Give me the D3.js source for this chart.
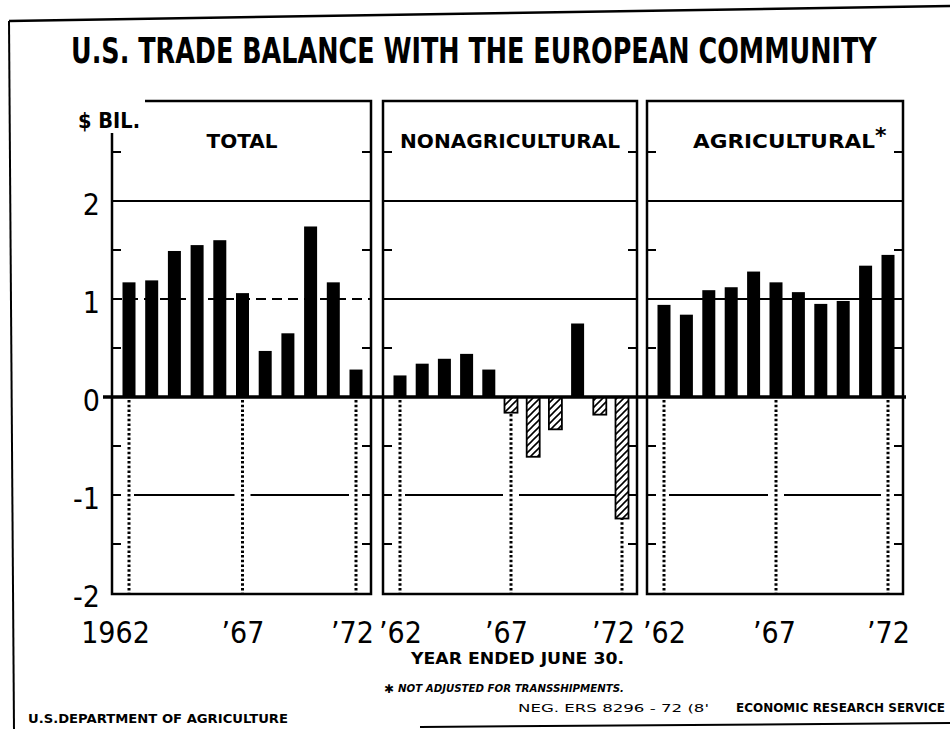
<!DOCTYPE html>
<html>
<head>
<meta charset="utf-8">
<title>U.S. Trade Balance with the European Community</title>
<script src="https://cdn.jsdelivr.net/npm/d3@7"></script>
<style>
  body { margin: 0; background: #fff; }
  svg text { fill: #000; }
</style>
</head>
<body>
<svg id="chart" width="950" height="729"></svg>
<script>

// values, $ billion, years ended June 30
var years = [1962, 1963, 1964, 1965, 1966, 1967, 1968, 1969, 1970, 1971, 1972];
var totalVals = [1.17, 1.19, 1.49, 1.55, 1.60, 1.06, 0.47, 0.65, 1.74, 1.17, 0.28];
var nonagVals = [0.22, 0.34, 0.39, 0.44, 0.28, -0.16, -0.61, -0.33, 0.75, -0.18, -1.24];
var agVals = [0.94, 0.84, 1.09, 1.12, 1.28, 1.17, 1.07, 0.95, 0.98, 1.34, 1.45];

var panelTitles = ["TOTAL", "NONAGRICULTURAL", "AGRICULTURAL"];
var yTicks = [2, 1, 0, -1, -2];
var markYears = [1962, 1967, 1972];
var yearLabels = [["1962", "\u201967", "\u201972"], ["\u201962", "\u201967", "\u201972"], ["\u201962", "\u201967", "\u201972"]];

var series = [totalVals, nonagVals, agVals];

var svg = d3.select("#chart");
var cond = "'DejaVu Sans Condensed', 'DejaVu Sans', sans-serif";
var sans = "'DejaVu Sans', sans-serif";

var y = d3.scaleLinear().domain([-2, 3]).range([593, 103]);
var boxTop = 101, boxBottom = 594;

// panel boxes (layout)
var panels = [
  {x0: 112, x1: 371, tx: 242, tw: 71},
  {x0: 383, x1: 637, tx: 510, tw: 220},
  {x0: 647, x1: 903, tx: 784, tw: 182}
];
var labelNudge = [[-14, 0, -4], [0, -5, -9], [0, -2, 0]];

/* hatch for negative bars */
var defs = svg.append("defs");
defs.append("pattern")
  .attr("id", "hatch")
  .attr("patternUnits", "userSpaceOnUse")
  .attr("width", 7).attr("height", 7)
  .append("path")
  .attr("d", "M0,7 L7,0 M-2,2 L2,-2 M5,9 L9,5")
  .attr("stroke", "#000").attr("stroke-width", 1.6);

/* page frame */
svg.append("line").attr("x1", 9).attr("y1", 21).attr("x2", 950).attr("y2", 6)
  .attr("stroke", "#000").attr("stroke-width", 2.5);
svg.append("line").attr("x1", 9).attr("y1", 21).attr("x2", 14).attr("y2", 729)
  .attr("stroke", "#000").attr("stroke-width", 2);
svg.append("line").attr("x1", 420).attr("y1", 727).attr("x2", 950).attr("y2", 723)
  .attr("stroke", "#000").attr("stroke-width", 2);

/* title, squeezed horizontally to the width it has in the original */
var title = svg.append("text")
  .style("font-family", cond).style("font-weight", "bold").style("font-size", "35px")
  .text("U.S. TRADE BALANCE WITH THE EUROPEAN COMMUNITY");
var tw = title.node().getComputedTextLength();
title.attr("transform", "translate(71,63) scale(" + (806 / tw) + ",1)");

svg.append("text")
  .attr("x", 78).attr("y", 128)
  .attr("textLength", 62).attr("lengthAdjust", "spacingAndGlyphs")
  .style("font-family", sans).style("font-weight", "bold").style("font-size", "22px")
  .text("$ BIL.");

/* y axis labels */
var yAxis = d3.axisLeft(y).tickValues(yTicks).tickSize(0).tickPadding(0)
  .tickFormat(function(d) { return d < 0 ? "-" + Math.abs(d) : d; });
var ya = svg.append("g").attr("transform", "translate(100,4)").call(yAxis);
ya.select(".domain").remove();
ya.selectAll("text")
  .style("font-family", cond).style("font-size", "30px").attr("fill", "#000");

panels.forEach(function(pn, p) {
  var vals = series[p];
  var data = years.map(function(yr, i) { return {year: yr, value: vals[i]}; });
  var x = d3.scalePoint().domain(years).range([pn.x0 + 17, pn.x1 - 15]);
  var g = svg.append("g");

  // gridlines at 2 and 1
  g.selectAll(".grid").data([2, 1]).enter().append("line")
    .attr("x1", pn.x0).attr("x2", pn.x1)
    .attr("y1", function(d) { return y(d); }).attr("y2", function(d) { return y(d); })
    .attr("stroke", "#000").attr("stroke-width", 2)
    .attr("stroke-dasharray", function(d) { return (p == 0 && d == 1) ? "10,6" : null; });

  // -1 line, broken at '67
  var m = x(1967);
  [[x(1962) + 5, m - 8], [m + 8, x(1972) - 7]].forEach(function(s) {
    g.append("line").attr("x1", s[0]).attr("x2", s[1])
      .attr("y1", y(-1)).attr("y2", y(-1))
      .attr("stroke", "#000").attr("stroke-width", 2);
  });

  // dotted year markers below zero
  g.selectAll(".dots").data(markYears).enter().append("line")
    .attr("x1", function(d) { return x(d); }).attr("x2", function(d) { return x(d); })
    .attr("y1", y(0) + 3).attr("y2", boxBottom)
    .attr("stroke", "#000").attr("stroke-width", 3)
    .attr("stroke-dasharray", "2.5,2.2");

  // bars
  g.selectAll(".bar").data(data).enter().append("rect")
    .attr("x", function(d) { return x(d.year) - 6.5; })
    .attr("width", 13)
    .attr("y", function(d) { return d.value >= 0 ? y(d.value) : y(0); })
    .attr("height", function(d) { return Math.abs(y(d.value) - y(0)); })
    .attr("fill", function(d) { return d.value >= 0 ? "#000" : "#fff"; });
  g.selectAll(".neg").data(data.filter(function(d) { return d.value < 0; })).enter().append("rect")
    .attr("x", function(d) { return x(d.year) - 6.5; })
    .attr("width", 13)
    .attr("y", y(0))
    .attr("height", function(d) { return y(d.value) - y(0); })
    .attr("fill", "url(#hatch)")
    .attr("stroke", "#000").attr("stroke-width", 1.8);

  // frame; the total panel is open at its top left for the unit label
  var path = p == 0
    ? "M145," + boxTop + "H" + pn.x1 + "V" + boxBottom + "H" + pn.x0 + "V133"
    : "M" + pn.x0 + "," + boxTop + "H" + pn.x1 + "V" + boxBottom + "H" + pn.x0 + "Z";
  g.append("path").attr("d", path).attr("fill", "none")
    .attr("stroke", "#000").attr("stroke-width", 2.5);

  // short inward ticks on both edges
  var minor = [2.5, 1.5, 0.5, -0.5, -1, -1.5];
  g.selectAll(".tl").data(minor).enter().append("line")
    .attr("x1", pn.x0).attr("x2", pn.x0 + 9)
    .attr("y1", function(d) { return y(d); }).attr("y2", function(d) { return y(d); })
    .attr("stroke", "#000").attr("stroke-width", 2);
  g.selectAll(".tr").data(minor).enter().append("line")
    .attr("x1", pn.x1 - 9).attr("x2", pn.x1)
    .attr("y1", function(d) { return y(d); }).attr("y2", function(d) { return y(d); })
    .attr("stroke", "#000").attr("stroke-width", 2);

  // panel name
  g.append("text")
    .attr("x", pn.tx).attr("y", 148)
    .attr("text-anchor", "middle")
    .attr("textLength", pn.tw).attr("lengthAdjust", "spacingAndGlyphs")
    .style("font-family", sans).style("font-weight", "bold").style("font-size", "19px")
    .text(panelTitles[p]);

  // year labels
  var xAxis = d3.axisBottom(x).tickValues(markYears).tickSize(0).tickPadding(0)
    .tickFormat(function(d, i) { return yearLabels[p][i]; });
  var xa = svg.append("g").attr("transform", "translate(0,643)").call(xAxis);
  xa.select(".domain").remove();
  xa.selectAll("text")
    .attr("y", 0).attr("dy", 0)
    .attr("dx", function(d, i) { return labelNudge[p][i]; })
    .style("font-family", cond).style("font-size", "30px").attr("fill", "#000");
});

// asterisk on the agricultural panel name
svg.append("text").attr("x", 875).attr("y", 143)
  .style("font-family", sans).style("font-weight", "bold").style("font-size", "22px")
  .text("*");

// zero line across all panels
svg.append("line")
  .attr("x1", 103).attr("x2", 906)
  .attr("y1", y(0)).attr("y2", y(0))
  .attr("stroke", "#000").attr("stroke-width", 3.5);

/* footer */
svg.append("text")
  .attr("x", 411).attr("y", 664)
  .attr("textLength", 213).attr("lengthAdjust", "spacingAndGlyphs")
  .style("font-family", cond).style("font-weight", "bold").style("font-size", "16px")
  .text("YEAR ENDED JUNE 30.");

svg.append("text")
  .attr("x", 384).attr("y", 693)
  .style("font-family", sans).style("font-weight", "bold").style("font-size", "12px")
  .text("\u2731");
svg.append("text")
  .attr("x", 398).attr("y", 692)
  .attr("textLength", 226).attr("lengthAdjust", "spacingAndGlyphs")
  .style("font-family", sans).style("font-weight", "bold").style("font-style", "italic")
  .style("font-size", "11px")
  .text("NOT ADJUSTED FOR TRANSSHIPMENTS.");

svg.append("text")
  .attr("x", 28).attr("y", 723)
  .attr("textLength", 260).attr("lengthAdjust", "spacingAndGlyphs")
  .style("font-family", sans).style("font-weight", "bold").style("font-size", "12px")
  .text("U.S.DEPARTMENT OF AGRICULTURE");

svg.append("text")
  .attr("x", 518).attr("y", 712)
  .attr("textLength", 191).attr("lengthAdjust", "spacingAndGlyphs")
  .style("font-family", cond).style("font-size", "11px")
  .text("NEG. ERS 8296 - 72 (8'");

svg.append("text")
  .attr("x", 736).attr("y", 712)
  .attr("textLength", 209).attr("lengthAdjust", "spacingAndGlyphs")
  .style("font-family", sans).style("font-weight", "bold").style("font-size", "12px")
  .text("ECONOMIC RESEARCH SERVICE");

</script>
</body>
</html>
